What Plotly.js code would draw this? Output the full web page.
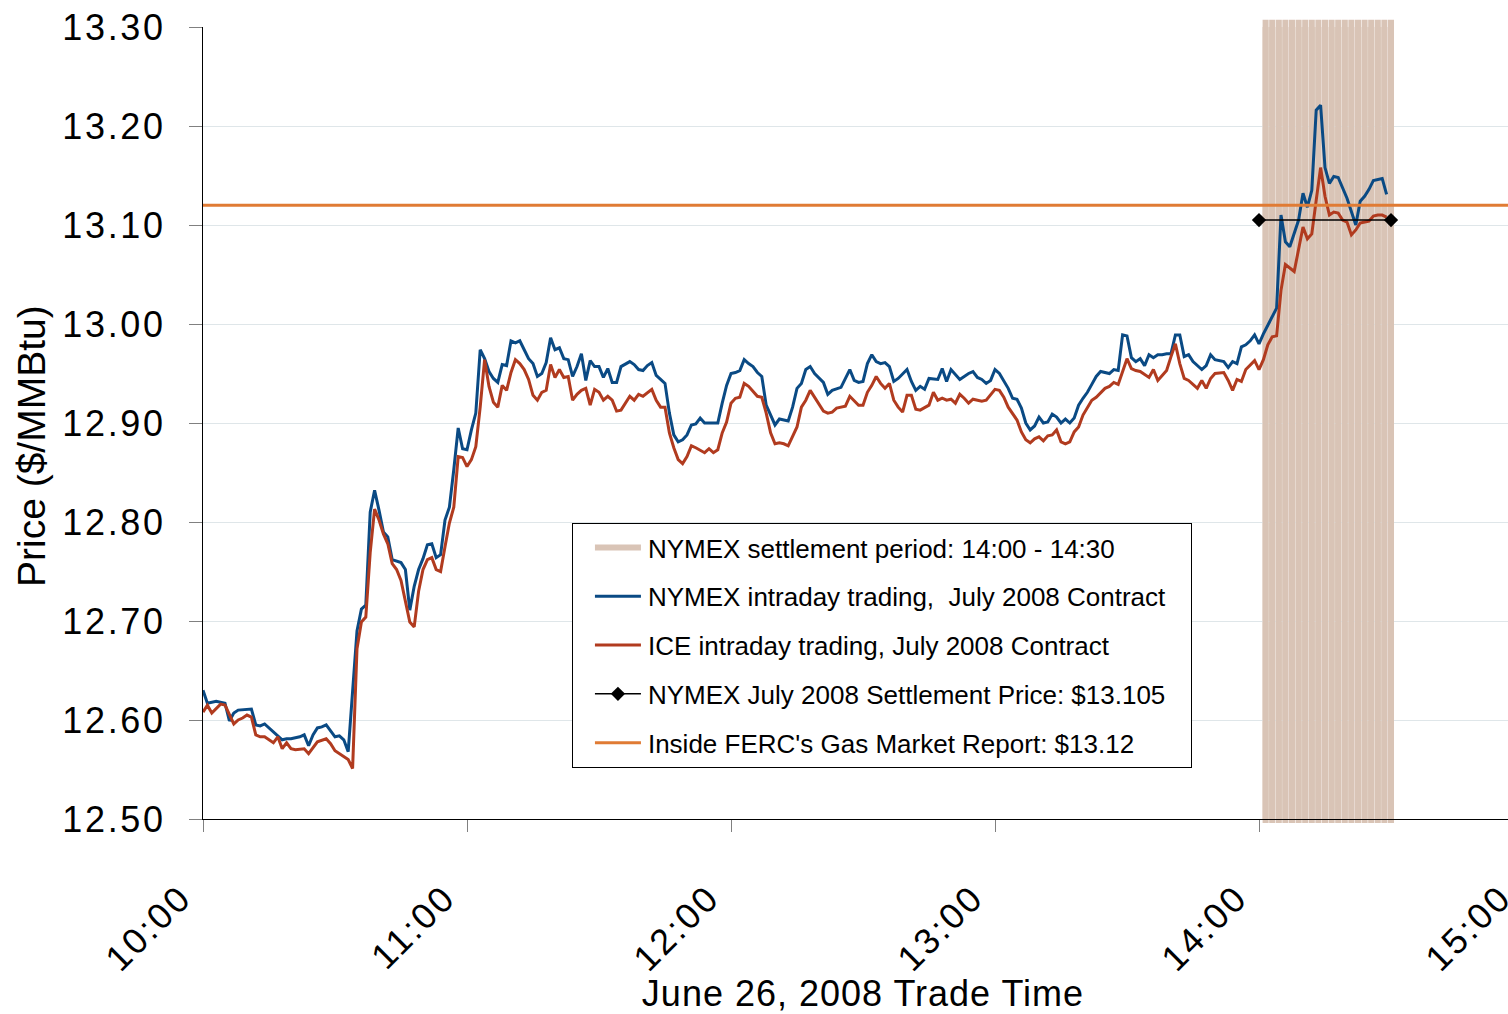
<!DOCTYPE html>
<html><head><meta charset="utf-8">
<script src="https://cdn.plot.ly/plotly-3.0.1.min.js"></script>
<style>
html,body{margin:0;padding:0;overflow:hidden;background:#fff;}
#chart{width:1533px;height:1014px;}
#chart g.xtick text, #chart g.ytick text{letter-spacing:2.7px;}
#chart text.xtitle{letter-spacing:1px;}
</style></head><body><div id="chart"></div>
<script>
var DAY = '2008-06-26 ';

// NYMEX intraday trading, July 2008 contract
var nymexTime = [
 '10:00','10:01','10:03','10:05','10:06','10:07','10:08','10:10','10:11','10:12','10:13','10:14','10:16','10:18','10:19','10:20','10:22','10:23','10:24','10:25','10:26','10:27','10:28','10:30','10:31','10:32','10:33','10:35','10:36','10:37','10:38','10:39','10:40','10:41','10:42','10:43','10:45','10:46','10:47','10:48','10:49','10:50','10:51','10:52','10:53','10:54','10:55','10:56','10:57','10:58','10:59',
 '11:00','11:01','11:02','11:03','11:04','11:05','11:06','11:07','11:08','11:09','11:10','11:11','11:12','11:13','11:14','11:15','11:16','11:17','11:18','11:19','11:20','11:21','11:22','11:23','11:24','11:25','11:26','11:27','11:28','11:29','11:30','11:31','11:32','11:33','11:34','11:35','11:37','11:38','11:39','11:40','11:41','11:42','11:43','11:44','11:45','11:46','11:47','11:48','11:49','11:50','11:51','11:52','11:53','11:54','11:55','11:57','11:58','11:59',
 '12:00','12:01','12:02','12:03','12:04','12:05','12:06','12:07','12:08','12:09','12:10','12:11','12:13','12:14','12:15','12:16','12:17','12:18','12:19','12:21','12:22','12:23','12:25','12:27','12:28','12:29','12:30','12:31','12:32','12:33','12:34','12:35','12:36','12:37','12:38','12:40','12:41','12:42','12:43','12:44','12:45','12:47','12:48','12:49','12:50','12:52','12:54','12:55','12:56','12:57','12:58','12:59',
 '13:00','13:01','13:02','13:03','13:04','13:05','13:06','13:07','13:08','13:09','13:10','13:11','13:12','13:13','13:14','13:15','13:16','13:17','13:18','13:19','13:20','13:21','13:22','13:23','13:24','13:25','13:26','13:27','13:28','13:29','13:30','13:31','13:32','13:33','13:34','13:35','13:36','13:37','13:38','13:39','13:40','13:41','13:42','13:43','13:44','13:45','13:46','13:47','13:48','13:49','13:50','13:52','13:53','13:54','13:55','13:56','13:57','13:58','13:59',
 '14:00','14:01','14:03','14:04','14:05','14:06','14:07','14:08','14:09','14:10','14:11','14:12','14:13','14:14','14:15','14:16','14:17','14:18','14:19','14:20','14:22','14:23','14:24','14:25','14:26','14:27','14:28','14:29'
];
var nymexPrice = [
 12.630,12.617,12.619,12.617,12.599,12.607,12.610,12.611,12.611,12.595,12.594,12.596,12.588,12.580,12.581,12.581,12.583,12.585,12.574,12.585,12.592,12.593,12.595,12.583,12.584,12.580,12.568,12.690,12.712,12.716,12.810,12.832,12.812,12.790,12.785,12.762,12.759,12.752,12.711,12.735,12.752,12.763,12.777,12.778,12.764,12.767,12.802,12.815,12.853,12.895,12.874,
 12.873,12.893,12.910,12.974,12.965,12.952,12.945,12.941,12.959,12.958,12.983,12.981,12.983,12.974,12.965,12.960,12.947,12.950,12.961,12.986,12.974,12.976,12.965,12.964,12.947,12.957,12.970,12.943,12.963,12.957,12.957,12.946,12.955,12.941,12.941,12.957,12.962,12.959,12.954,12.953,12.958,12.961,12.948,12.944,12.940,12.910,12.888,12.881,12.883,12.888,12.898,12.899,12.905,12.900,12.900,12.900,12.920,12.938,
 12.950,12.951,12.953,12.964,12.960,12.957,12.951,12.947,12.918,12.908,12.898,12.904,12.902,12.916,12.935,12.940,12.954,12.957,12.950,12.941,12.929,12.933,12.936,12.954,12.943,12.941,12.942,12.960,12.969,12.962,12.960,12.961,12.957,12.942,12.945,12.954,12.942,12.933,12.937,12.934,12.945,12.944,12.955,12.942,12.954,12.944,12.950,12.952,12.946,12.944,12.940,12.943,
 12.954,12.950,12.942,12.935,12.925,12.924,12.915,12.900,12.893,12.897,12.906,12.900,12.901,12.909,12.906,12.900,12.904,12.900,12.905,12.918,12.925,12.931,12.939,12.947,12.952,12.951,12.950,12.954,12.953,12.989,12.988,12.966,12.962,12.965,12.958,12.969,12.966,12.969,12.969,12.970,12.970,12.989,12.989,12.967,12.969,12.962,12.958,12.954,12.958,12.969,12.964,12.962,12.956,12.962,12.960,12.977,12.979,12.983,12.989,
 12.980,12.990,13.007,13.016,13.110,13.083,13.078,13.092,13.105,13.132,13.118,13.135,13.216,13.221,13.158,13.142,13.149,13.148,13.138,13.127,13.100,13.124,13.129,13.136,13.145,13.146,13.147,13.131
];

// ICE intraday trading, July 2008 contract
var iceTime = [
 '10:00','10:01','10:02','10:04','10:05','10:06','10:07','10:08','10:09','10:10','10:11','10:12','10:13','10:14','10:15','10:16','10:17','10:18','10:19','10:20','10:21','10:23','10:24','10:25','10:26','10:28','10:29','10:30','10:31','10:32','10:33','10:34','10:35','10:36','10:37','10:38','10:39','10:40','10:41','10:42','10:43','10:44','10:45','10:47','10:48','10:49','10:50','10:51','10:52','10:53','10:54','10:55','10:56','10:57','10:58','10:59',
 '11:00','11:01','11:02','11:03','11:04','11:05','11:06','11:07','11:08','11:09','11:10','11:11','11:12','11:13','11:14','11:15','11:16','11:17','11:18','11:19','11:20','11:21','11:22','11:23','11:24','11:25','11:26','11:27','11:28','11:29','11:30','11:31','11:32','11:33','11:34','11:35','11:36','11:37','11:38','11:39','11:40','11:42','11:43','11:44','11:45','11:46','11:47','11:48','11:49','11:50','11:51','11:52','11:54','11:55','11:56','11:57','11:58','11:59',
 '12:00','12:01','12:02','12:03','12:04','12:05','12:06','12:07','12:08','12:09','12:10','12:11','12:12','12:13','12:14','12:15','12:16','12:17','12:18','12:19','12:20','12:21','12:22','12:23','12:24','12:26','12:27','12:29','12:30','12:31','12:32','12:33','12:34','12:35','12:36','12:37','12:38','12:39','12:40','12:41','12:42','12:43','12:45','12:46','12:47','12:48','12:49','12:50','12:51','12:52','12:53','12:54','12:55','12:56','12:57','12:58','12:59',
 '13:00','13:01','13:02','13:03','13:04','13:05','13:06','13:07','13:08','13:09','13:10','13:11','13:12','13:13','13:14','13:15','13:16','13:17','13:18','13:19','13:20','13:21','13:22','13:23','13:24','13:25','13:26','13:27','13:28','13:29','13:30','13:31','13:32','13:33','13:34','13:35','13:36','13:37','13:38','13:39','13:40','13:41','13:42','13:43','13:44','13:46','13:47','13:48','13:49','13:50','13:52','13:53','13:54','13:55','13:56','13:57','13:59',
 '14:00','14:01','14:02','14:03','14:04','14:05','14:06','14:08','14:09','14:10','14:11','14:12','14:13','14:14','14:15','14:16','14:17','14:18','14:19','14:20','14:21','14:22','14:23','14:24','14:25','14:26','14:27','14:28','14:29'
];
var icePrice = [
 12.608,12.615,12.607,12.616,12.615,12.605,12.596,12.600,12.602,12.605,12.603,12.585,12.583,12.583,12.580,12.577,12.583,12.571,12.577,12.571,12.570,12.571,12.566,12.572,12.578,12.581,12.576,12.569,12.566,12.563,12.560,12.551,12.672,12.699,12.704,12.769,12.813,12.802,12.788,12.778,12.758,12.752,12.741,12.699,12.694,12.730,12.752,12.762,12.764,12.752,12.750,12.775,12.799,12.815,12.866,12.865,
 12.856,12.863,12.876,12.916,12.964,12.937,12.921,12.916,12.938,12.933,12.951,12.964,12.960,12.954,12.944,12.928,12.923,12.931,12.933,12.959,12.946,12.954,12.946,12.947,12.923,12.929,12.933,12.935,12.918,12.934,12.931,12.923,12.927,12.923,12.912,12.913,12.920,12.927,12.923,12.929,12.927,12.934,12.923,12.916,12.916,12.890,12.875,12.863,12.859,12.866,12.877,12.875,12.870,12.874,12.870,12.873,12.890,12.901,
 12.920,12.925,12.926,12.940,12.937,12.932,12.927,12.926,12.910,12.890,12.879,12.880,12.879,12.877,12.886,12.896,12.916,12.923,12.933,12.926,12.920,12.912,12.910,12.911,12.915,12.917,12.927,12.918,12.918,12.931,12.938,12.947,12.940,12.935,12.940,12.923,12.916,12.911,12.928,12.928,12.914,12.913,12.918,12.931,12.923,12.925,12.923,12.924,12.920,12.929,12.925,12.920,12.924,12.923,12.922,12.923,12.928,
 12.934,12.933,12.926,12.916,12.909,12.903,12.891,12.883,12.880,12.884,12.886,12.882,12.887,12.888,12.893,12.881,12.879,12.881,12.891,12.896,12.908,12.915,12.923,12.926,12.931,12.935,12.937,12.941,12.939,12.952,12.965,12.955,12.953,12.952,12.949,12.946,12.954,12.943,12.948,12.953,12.967,12.980,12.960,12.945,12.943,12.935,12.943,12.935,12.945,12.950,12.951,12.943,12.933,12.944,12.942,12.954,12.963,
 12.954,12.964,12.979,12.987,12.988,13.034,13.060,13.053,13.075,13.098,13.086,13.091,13.125,13.158,13.129,13.110,13.113,13.112,13.105,13.103,13.090,13.095,13.102,13.103,13.104,13.109,13.110,13.110,13.108
];

// NYMEX settlement period bars (14:00 - 14:30)
var settleBarTimes = ['14:01:30','14:03:00','14:04:30','14:06:00','14:07:30','14:09:00','14:10:30','14:12:00','14:13:30','14:15:00','14:16:30','14:18:00','14:19:30','14:21:00','14:22:30','14:24:00','14:25:30','14:27:00','14:28:30','14:30:00'];

// Settlement price and Inside FERC index
var settleTime = ['14:00','14:30'];
var settlePrice = [13.105, 13.105];
var fercTime = ['10:00','15:00'];
var fercPrice = [13.12, 13.12];

var names = [
 'NYMEX settlement period: 14:00 - 14:30',
 'NYMEX intraday trading,  July 2008 Contract',
 'ICE intraday trading, July 2008 Contract',
 'NYMEX July 2008 Settlement Price: $13.105',
 "Inside FERC's Gas Market Report: $13.12"
];

var YMIN = 12.5, YMAX = 13.3;
var F = 'Liberation Sans, Arial, sans-serif';
var TAN = '#d9c4b6', BLUE = '#0a4a84', RED = '#b13b1f', ORANGE = '#e07b34';
function d(arr){ return arr.map(function(t){ return DAY + t; }); }

var barX = [], barY = [];
settleBarTimes.forEach(function(t){ barX.push(DAY+t, DAY+t, null); barY.push(YMIN, YMAX, null); });

var traces = [
 {x:barX, y:barY, type:'scatter', mode:'lines', name:names[0], legendgroup:'a',
  line:{color:TAN, width:6}, hoverinfo:'skip'},
 {x:d(nymexTime), y:nymexPrice, type:'scatter', mode:'lines', name:names[1], legendgroup:'b',
  line:{color:BLUE, width:3}},
 {x:d(iceTime), y:icePrice, type:'scatter', mode:'lines', name:names[2], legendgroup:'c',
  line:{color:RED, width:3}},
 {x:d(settleTime), y:settlePrice, type:'scatter', mode:'lines+markers', name:names[3], legendgroup:'d',
  line:{color:'#000', width:1.5}, marker:{symbol:'diamond', size:11, color:'#000'}, cliponaxis:false},
 {x:d(fercTime), y:fercPrice, type:'scatter', mode:'lines', name:names[4], legendgroup:'e',
  line:{color:ORANGE, width:3}}
];

// bars continue a little past the plot edges, as in the original
var shapes = settleBarTimes.map(function(t){
 return {type:'line', xref:'x', yref:'paper', x0:DAY+t, x1:DAY+t, y0:-0.005, y1:1.009,
   line:{color:TAN, width:6}, layer:'below'};
});

var layout = {
 width:1533, height:1014,
 margin:{l:203, r:10, t:27, b:195},
 paper_bgcolor:'#fff', plot_bgcolor:'#fff',
 font:{family:F, color:'#000'},
 showlegend:true,
 legend:{x:0.2795, y:0.3737, xanchor:'left', yanchor:'top', bgcolor:'#fff',
   bordercolor:'#000', borderwidth:1, font:{family:F, size:26, color:'#000'},
   tracegroupgap:12, traceorder:'grouped', itemwidth:65},
 xaxis:{type:'date', range:[DAY+'10:00', DAY+'15:00'], tick0:DAY+'10:00', dtick:3600000,
   tickformat:'%H:%M', tickangle:-45, ticks:'outside', ticklen:12, tickcolor:'#808080',
   ticklabelstandoff:30, ticklabelshift:-22, ticklabeloverflow:'allow',
   showline:true, linecolor:'#000', linewidth:1, showgrid:false, zeroline:false,
   tickfont:{family:F, size:36, color:'#000'},
   title:{text:'June 26, 2008 Trade Time', font:{family:F, size:36, color:'#000'}, standoff:22}},
 yaxis:{range:[YMIN,YMAX], dtick:0.1, tick0:12.5, tickformat:'.2f', ticks:'outside', ticklen:13,
   tickcolor:'#808080', showline:true, linecolor:'#000', linewidth:1, showgrid:true,
   gridcolor:'#dfe6e9', gridwidth:1, zeroline:false, ticklabelstandoff:16,
   tickfont:{family:F, size:36, color:'#000'}},
 annotations:[{text:'Price ($/MMBtu)', xref:'paper', yref:'paper', x:-0.1295, y:0.471,
   xanchor:'center', yanchor:'middle', textangle:-90, showarrow:false,
   font:{family:F, size:39, color:'#000'}}],
 shapes:shapes
};

Plotly.newPlot('chart', traces, layout, {displayModeBar:false, staticPlot:true}).then(function(gd){
 // longer legend line samples and a wider legend box, as in the original
 var legend = gd.querySelector('.legend');
 if(!legend) return;
 legend.querySelectorAll('.legendlines path').forEach(function(p){ p.setAttribute('d','M22,0h46'); });
 legend.querySelectorAll('.legendpoints path.scatterpts').forEach(function(p){ p.setAttribute('transform','translate(45,0)'); });
 var bg = legend.querySelector('rect.bg');
 if(bg) bg.setAttribute('width', 619);
});
</script></body></html>
